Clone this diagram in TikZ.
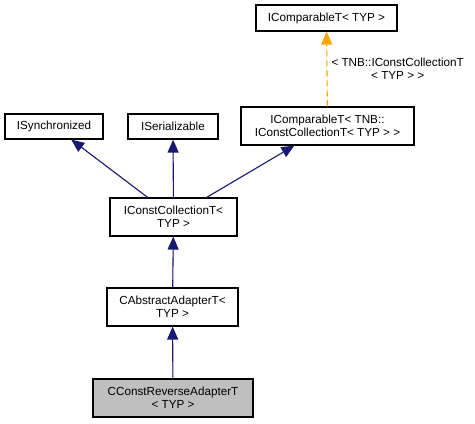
\documentclass[tikz,border=0pt]{standalone}
\usepackage{fontspec}
\setmainfont{Liberation Sans}
\usetikzlibrary{arrows.meta}
\definecolor{edgeblue}{RGB}{25,25,112}
\definecolor{edgeorange}{RGB}{255,165,0}
\definecolor{boxgray}{RGB}{191,191,191}

\begin{document}
\begin{tikzpicture}
    [x=1pt,y=-1pt,inner sep=0pt,
     font=\fontsize{11.7}{13}\selectfont,
     cls/.style={rectangle,draw=black,line width=1.1pt,align=center},
     inh/.style={-{Triangle[length=13pt,width=11pt]},draw=edgeblue,fill=edgeblue,line width=1.1pt},
     tpl/.style={-{Triangle[length=13pt,width=11pt]},draw=edgeorange,fill=edgeorange,line width=1.1pt,dash pattern=on 6pt off 4pt}]
    \useasboundingbox (0,0) rectangle (475,424);
    \node (cmptyp) at (326.5,18)  [cls,minimum width=141pt,minimum height=26pt] {IComparableT< TYP >};
    \node (cmptnb) at (327.5,126) [cls,minimum width=173pt,minimum height=38pt] {IComparableT< TNB::\\IConstCollectionT< TYP > >};
    \node (sync)   at (54,126.5)  [cls,minimum width=98pt,minimum height=25pt]  {ISynchronized};
    \node (ser)    at (173,126.5) [cls,minimum width=90pt,minimum height=25pt]  {ISerializable};
    \node (ccoll)  at (173.5,217) [cls,minimum width=127pt,minimum height=38pt] {IConstCollectionT<\\TYP >};
    \node (absad)  at (172.5,307) [cls,minimum width=131pt,minimum height=38pt] {CAbstractAdapterT<\\TYP >};
    \node (crev)   at (173,398)   [cls,fill=boxgray,minimum width=160pt,minimum height=38pt] {CConstReverseAdapterT\\< TYP >};
    \draw [tpl] (cmptnb) -- (cmptyp)
      node [pos=0.5,right=4pt,align=center] {< TNB::IConstCollectionT\\< TYP > >};
    \draw [inh] (ccoll) -- (sync);
    \draw [inh] (ccoll) -- (ser);
    \draw [inh] (ccoll) -- (cmptnb);
    \draw [inh] (absad) -- (ccoll);
    \draw [inh] (crev) -- (absad);
  \end{tikzpicture}
\end{document}
